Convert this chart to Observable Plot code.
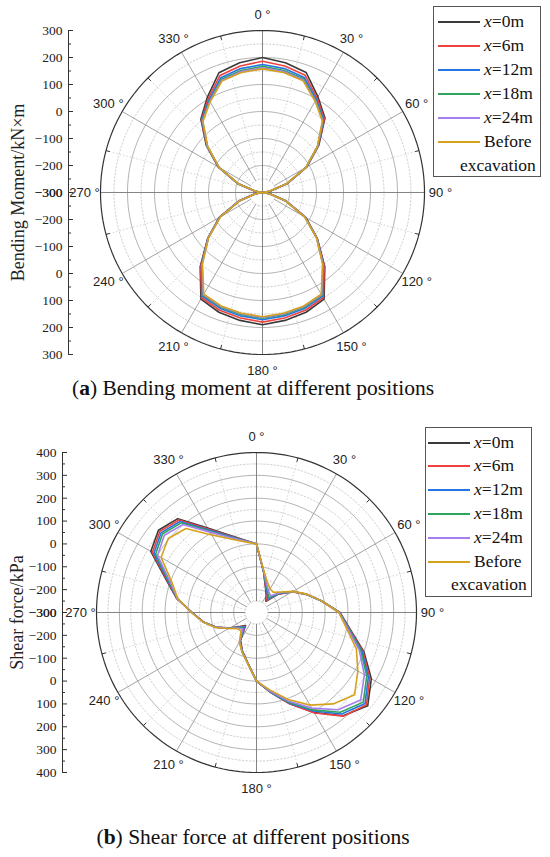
<!DOCTYPE html>
<html><head><meta charset="utf-8">
<script src="https://cdn.jsdelivr.net/npm/d3@7"></script>
<script src="https://cdn.jsdelivr.net/npm/@observablehq/plot@0.6"></script>
<style>
body{margin:0;background:#fff;width:550px;height:857px;position:relative;overflow:hidden;font-family:"Liberation Serif",serif;color:#111;}
.abs{position:absolute;left:0;}
.cap{position:absolute;left:0;width:506px;text-align:center;font-size:21.5px;line-height:20px;}
.legend{position:absolute;border:1.3px solid #555;background:#fff;box-sizing:border-box;}
.row{position:absolute;height:0;}
.row .ln{position:absolute;height:0;border-top:2px solid;}
.row .tx{position:absolute;font-size:17.5px;line-height:20px;white-space:nowrap;transform:translateY(-11px);}
</style></head><body>
<div id="chartA" class="abs" style="top:0px"></div>
<div class="cap" style="top:378px">(<b>a</b>) Bending moment at different positions</div>
<div id="chartB" class="abs" style="top:400px"></div>
<div class="cap" style="top:827px">(<b>b</b>) Shear force at different positions</div>
<div id="legA" class="legend" style="left:433px;top:6px;width:108px;height:171px"></div>
<div id="legB" class="legend" style="left:425px;top:427px;width:107px;height:170px"></div>
<script>
// ---- data ----
const angles = [0,10,20,30,40,50,60,70,80,90,100,110,120,130,140,150,160,170,180,190,200,210,220,230,240,250,260,270,280,290,300,310,320,330,340,350];
const seriesNames = ["x=0m","x=6m","x=12m","x=18m","x=24m","Before excavation"];
const seriesColors = ["#3a3a3a","#f0413f","#2474e2","#2ea45c","#a67ef0","#d5a21c"];
const angleLabels = [0,30,60,90,120,150,180,210,240,270,300,330];

// Bending moment (kN·m)
const momentX0  = [200,188,173,110,60,-28,-110,-200,-270,-300,-270,-205,-115,-35,59,156,172,181,190,181,172,156,59,-35,-115,-205,-270,-300,-270,-200,-110,-28,55,108,172,188];
const momentX6  = [186,176,162,104,56,-30,-112,-202,-272,-300,-272,-207,-117,-36,56,150,164,172,180,172,164,150,56,-36,-117,-207,-272,-300,-272,-202,-112,-30,52,102,161,176];
const momentX12 = [174,166,153,98,52,-32,-113,-203,-273,-300,-273,-208,-118,-37,52,144,157,164,171,164,157,144,52,-37,-118,-208,-273,-300,-273,-203,-113,-32,49,96,152,166];
const momentX18 = [167,159,147,94,49,-33,-114,-204,-274,-300,-274,-209,-119,-38,50,140,152,159,166,159,152,140,50,-38,-119,-209,-274,-300,-274,-204,-114,-33,47,92,146,159];
const momentX24 = [162,155,143,92,47,-34,-114,-204,-274,-300,-274,-209,-119,-38,48,138,149,156,163,156,149,138,48,-38,-119,-209,-274,-300,-274,-204,-114,-34,45,90,142,155];
const momentBefore = [158,151,140,90,45,-35,-115,-205,-275,-300,-275,-210,-120,-39,46,135,147,154,160,154,147,135,46,-39,-120,-210,-275,-300,-275,-205,-115,-35,43,88,139,151];

// Shear force (kPa)
const shearX0  = [0,-120,-185,-215,-236,-175,-118,-68,-10,65,115,200,280,335,290,205,125,55,0,-77,-120,-160,-225,-205,-165,-112,-64,-18,55,121,234,260,236,127,62,23];
const shearX6  = [0,-120,-182,-210,-230,-173,-118,-68,-10,64,113,195,272,328,292,208,125,55,0,-77,-119,-158,-221,-203,-164,-112,-64,-18,54,117,226,252,228,122,59,22];
const shearX12 = [0,-119,-178,-205,-224,-171,-117,-67,-10,63,111,190,265,320,280,198,122,54,0,-76,-118,-156,-217,-201,-163,-111,-63,-18,53,113,218,244,220,117,56,21];
const shearX18 = [0,-118,-174,-200,-216,-169,-117,-67,-10,62,109,185,257,310,270,192,118,52,0,-76,-117,-154,-212,-198,-162,-111,-63,-17,52,109,210,236,212,112,53,20];
const shearX24 = [0,-117,-170,-193,-206,-166,-116,-66,-10,61,106,178,245,295,255,183,113,50,0,-75,-116,-152,-206,-195,-161,-110,-62,-16,51,104,200,226,202,106,50,19];
const shearBefore = [0,-115,-160,-180,-185,-160,-115,-65,-10,60,100,165,212,260,222,168,105,45,0,-75,-115,-150,-195,-190,-160,-108,-62,-15,50,95,182,204,180,92,43,15];

const momentSeries = [momentX0, momentX6, momentX12, momentX18, momentX24, momentBefore];
const shearSeries = [shearX0, shearX6, shearX12, shearX18, shearX24, shearBefore];

// ---- polar chart builder ----
function polarChart(cfg) {
  const {series, vmin, vmax, width, height, mL, mR, mT, mB, cxPx, title, titleDx, cardinalFromCenter} = cfg;
  const span = vmax - vmin;
  const k = (height - mT - mB) / (2 * span);       // px per unit
  const xL = -(cxPx - mL) / k, xR = (width - mR - cxPx) / k;
  const rad = a => a * Math.PI / 180;
  const X = (r, a) => r * Math.sin(rad(a));
  const Y = (r, a) => r * Math.cos(rad(a));
  const fmt = v => v < 0 ? "\u2212" + (-v) : String(v);

  const table = [];
  series.forEach((vals, si) => vals.forEach((v, i) => table.push({series: seriesNames[si], a: angles[i], r: v - vmin})));

  const circ = d3.range(0, 360, 2);
  const majorR = d3.range(100, span, 100);
  const minorR = d3.range(50, span, 100);
  const ringPts = rs => rs.flatMap(r => circ.map(a => ({r, a})));
  const spokes = d3.range(0, 360, 30);
  const minorSpokes = d3.range(15, 360, 30);
  const cardinal = [0, 90, 180, 270];
  const other = spokes.filter(a => !cardinal.includes(a));
  const yTicks = d3.range(-span, span + 1, 100);
  const yMinor = d3.range(-span + 50, span, 100);
  const labR = span + 16 / k;
  const serif = "Liberation Serif";

  return Plot.plot({
    width, height, marginLeft: mL, marginRight: mR, marginTop: mT, marginBottom: mB,
    x: {domain: [xL, xR], axis: null},
    y: {domain: [-span, span], axis: null},
    color: {domain: seriesNames, range: seriesColors},
    style: {fontFamily: serif, background: "transparent", overflow: "visible"},
    marks: [
      // grid
      Plot.line(ringPts(minorR), {x: d => X(d.r, d.a), y: d => Y(d.r, d.a), z: "r", curve: "linear-closed", stroke: "#c4c4c4", strokeWidth: 0.8, strokeDasharray: "1.5,2"}),
      Plot.line(ringPts(majorR), {x: d => X(d.r, d.a), y: d => Y(d.r, d.a), z: "r", curve: "linear-closed", stroke: "#a0a0a0", strokeWidth: 0.8}),
      Plot.link(minorSpokes, {x1: a => X(50, a), y1: a => Y(50, a), x2: a => X(span, a), y2: a => Y(span, a), stroke: "#c8c8c8", strokeWidth: 0.8, strokeDasharray: "1.5,2"}),
      Plot.link(other, {x1: a => X(50, a), y1: a => Y(50, a), x2: a => X(span, a), y2: a => Y(span, a), stroke: "#8c8c8c", strokeWidth: 0.8}),
      Plot.link(cardinal, {x1: a => X(cardinalFromCenter ? 0 : 50, a), y1: a => Y(cardinalFromCenter ? 0 : 50, a), x2: a => X(span, a), y2: a => Y(span, a), stroke: "#777", strokeWidth: 0.9}),
      Plot.line(ringPts([span]), {x: d => X(d.r, d.a), y: d => Y(d.r, d.a), z: "r", curve: "linear-closed", stroke: "#333", strokeWidth: 1.2}),
      Plot.link(minorSpokes, {x1: a => X(span, a), y1: a => Y(span, a), x2: a => X(span - 4 / k, a), y2: a => Y(span - 4 / k, a), stroke: "#333", strokeWidth: 1}),
      // data
      Plot.line(table, {x: d => X(d.r, d.a), y: d => Y(d.r, d.a), z: "series", stroke: "series", curve: "linear-closed", strokeWidth: 1.6}),
      // angle labels
      Plot.text(angleLabels, {x: a => X(labR, a), y: a => Y(labR, a), text: a => a + " \u00B0", fontFamily: "Liberation Sans", fontSize: 13, fill: "#222"}),
      // radial axis
      Plot.ruleX([xL], {y1: -span, y2: span, stroke: "#333", strokeWidth: 1}),
      Plot.ruleY(yTicks, {y: d => d, x1: xL, x2: xL + 5 / k, stroke: "#333", strokeWidth: 1}),
      Plot.ruleY(yMinor, {y: d => d, x1: xL, x2: xL + 3 / k, stroke: "#333", strokeWidth: 1}),
      Plot.text(yTicks, {x: xL, y: d => d, text: d => fmt(Math.abs(d) + vmin), textAnchor: "end", dx: -6, fontSize: 13.5, fill: "#222"}),
      Plot.text([0], {x: xL, y: d => d, text: () => fmt(vmin), textAnchor: "end", dx: -6, fontSize: 13.5, fill: "#222"}),
      Plot.text([title], {frameAnchor: "left", textAnchor: "middle", dx: titleDx, rotate: -90, fontSize: 18, fill: "#222", text: d => d})
    ]
  });
}

document.getElementById("chartA").appendChild(polarChart({
  series: momentSeries, vmin: -300, vmax: 300, width: 550, height: 380,
  mL: 68, mR: 10, mT: 30, mB: 26, cxPx: 262, title: "Bending Moment/kN\u00D7m", titleDx: -50, cardinalFromCenter: true
}));
document.getElementById("chartB").appendChild(polarChart({
  series: shearSeries, vmin: -300, vmax: 400, width: 550, height: 400,
  mL: 62, mR: 10, mT: 52, mB: 28, cxPx: 256, title: "Shear force/kPa", titleDx: -45, cardinalFromCenter: false
}));

// ---- legends ----
function buildLegend(id, rowTop, rowGap, lineL, lineW, textL, excL) {
  const box = document.getElementById(id);
  seriesNames.forEach((name, i) => {
    const row = document.createElement("div");
    row.className = "row";
    row.style.top = (rowTop + i * rowGap) + "px";
    row.style.left = "0px";
    const ln = document.createElement("div");
    ln.className = "ln";
    ln.style.left = lineL + "px"; ln.style.width = lineW + "px"; ln.style.top = "-1px";
    ln.style.borderTopColor = seriesColors[i];
    row.appendChild(ln);
    const tx = document.createElement("div");
    tx.className = "tx";
    tx.style.left = textL + "px";
    if (name.startsWith("x=")) tx.innerHTML = "<i>x</i>" + name.slice(1);
    else tx.textContent = name.split(" ")[0];
    row.appendChild(tx);
    box.appendChild(row);
    if (!name.startsWith("x=")) {
      const r2 = document.createElement("div");
      r2.className = "row";
      r2.style.top = (rowTop + (i + 1) * rowGap) + "px";
      const t2 = document.createElement("div");
      t2.className = "tx"; t2.style.left = excL + "px";
      t2.textContent = name.split(" ")[1];
      r2.appendChild(t2);
      box.appendChild(r2);
    }
  });
}
buildLegend("legA", 14.5, 24.1, 4, 42, 50, 26);
buildLegend("legB", 14.5, 23.8, 2, 42, 48, 25);
</script>
</body></html>
